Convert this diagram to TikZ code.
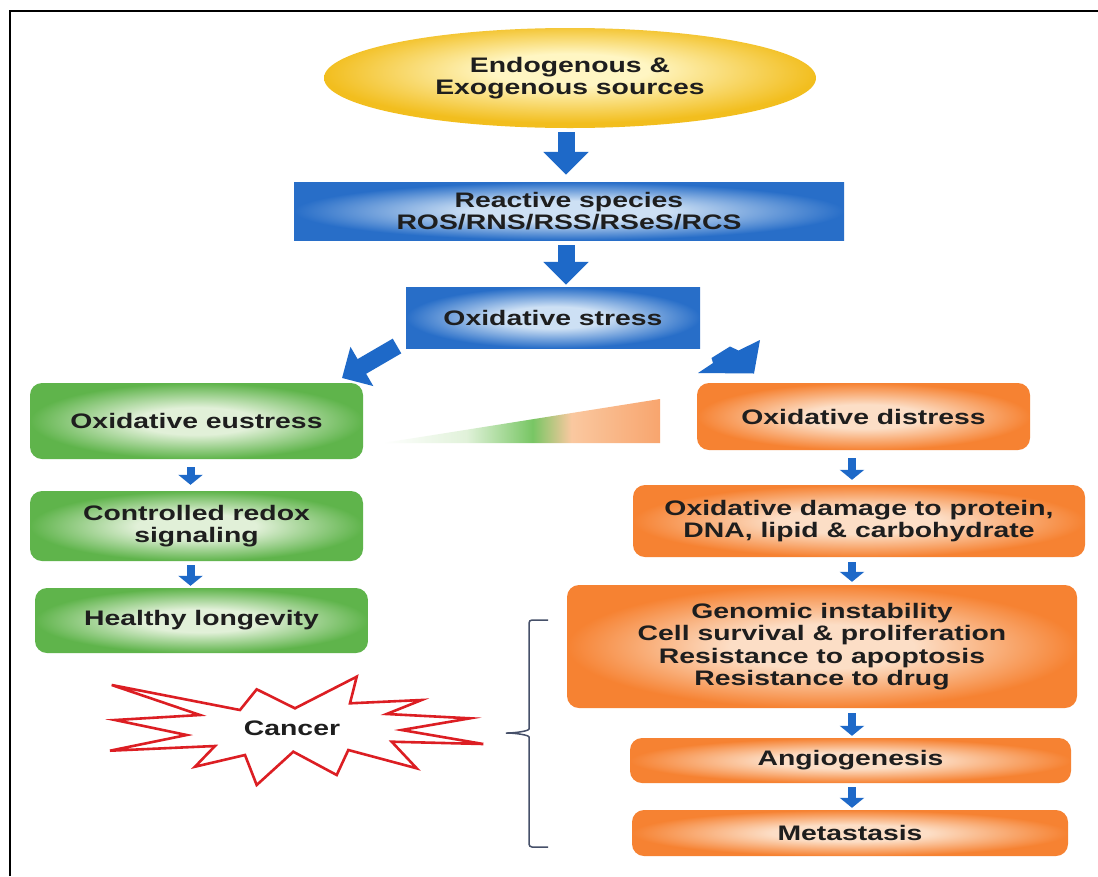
\documentclass[tikz,border=0pt]{standalone}
\usepackage{fontspec}
\setmainfont{Liberation Sans}[FakeStretch=1.35]
\usetikzlibrary{shapes.geometric,arrows.meta}
\definecolor{txt}{RGB}{30,30,30}
\definecolor{blueout}{RGB}{40,110,200}
\definecolor{bluein}{RGB}{205,224,244}
\definecolor{arrblue}{RGB}{30,105,200}
\definecolor{greenout}{RGB}{95,180,75}
\definecolor{greenin}{RGB}{225,240,216}
\definecolor{orout}{RGB}{246,130,50}
\definecolor{orin}{RGB}{252,222,198}
\definecolor{yelout}{RGB}{242,190,30}
\definecolor{yelin}{RGB}{255,246,195}
\definecolor{burst}{RGB}{220,30,35}
\definecolor{bracec}{RGB}{70,80,105}
\definecolor{trigA}{RGB}{225,242,218}
\definecolor{trigB}{RGB}{120,198,100}
\definecolor{tripA}{RGB}{250,200,160}
\definecolor{tripB}{RGB}{248,165,110}
\pgfdeclarehorizontalshading{trishade}{100bp}{color(0bp)=(white); color(25bp)=(white); color(40bp)=(trigA); color(52bp)=(trigB); color(59bp)=(tripA); color(75bp)=(tripB); color(100bp)=(tripB)}
\pgfdeclareradialshading{blueglow}{\pgfpoint{0bp}{0bp}}{color(0bp)=(bluein); color(9bp)=(bluein); color(25bp)=(blueout); color(50bp)=(blueout)}
\pgfdeclareradialshading{greenglow}{\pgfpoint{0bp}{0bp}}{color(0bp)=(greenin); color(9bp)=(greenin); color(25bp)=(greenout); color(50bp)=(greenout)}
\pgfdeclareradialshading{orglow}{\pgfpoint{0bp}{0bp}}{color(0bp)=(orin); color(9bp)=(orin); color(25bp)=(orout); color(50bp)=(orout)}
\pgfdeclareradialshading{yelglow}{\pgfpoint{0bp}{5bp}}{color(0bp)=(yelin); color(8bp)=(yelin); color(25bp)=(yelout); color(50bp)=(yelout)}
\tikzset{
  lbl/.style={font=\fontsize{21}{22.5}\selectfont\bfseries, text=txt, align=center, inner sep=0pt},
  bluebox/.style={lbl, rectangle, shading=blueglow},
  greenbox/.style={lbl, rectangle, rounded corners=12pt, shading=greenglow},
  orbox/.style={lbl, rectangle, rounded corners=12pt, shading=orglow},
  bigarr/.style={draw=arrblue, line width=17pt, -{Triangle[width=44pt,length=23pt]}},
  smallarr/.style={draw=arrblue, line width=8pt, -{Triangle[width=24pt,length=10pt]}},
}
\begin{document}
\begin{tikzpicture}[x=1pt,y=-1pt]
\useasboundingbox (0,0) rectangle (1098,876);
\fill[white] (0,0) rectangle (1098,876);
\draw[line width=2.5pt] (10,876) -- (10,11) -- (1098,11);

\node[lbl, ellipse, shading=yelglow, minimum width=492pt, minimum height=100pt] (src) at (570,78) {Endogenous \&\\Exogenous sources};
\node[bluebox, minimum width=550pt, minimum height=58pt] (rs) at (569,211) {Reactive species\\ROS/RNS/RSS/RSeS/RCS};
\node[bluebox, minimum width=294pt, minimum height=61pt] (os) at (553,317.5) {Oxidative stress};

\node[greenbox, minimum width=333pt, minimum height=76pt] (eu) at (196.5,421) {Oxidative eustress};
\node[greenbox, minimum width=333pt, minimum height=70pt] (rx) at (196.5,526) {Controlled redox\\signaling};
\node[greenbox, minimum width=333pt, minimum height=65pt] (hl) at (201.5,620.5) {Healthy longevity};

\node[orbox, minimum width=333pt, minimum height=67pt] (di) at (863.5,416.5) {Oxidative distress};
\node[orbox, minimum width=452pt, minimum height=72pt] (dm) at (859,521) {Oxidative damage to protein,\\DNA, lipid \& carbohydrate};
\node[orbox, minimum width=510pt, minimum height=123pt] (gi) at (822,646.5) {Genomic instability\\Cell survival \& proliferation\\Resistance to apoptosis\\Resistance to drug};
\node[orbox, minimum width=441pt, minimum height=45pt] (an) at (850.5,760.5) {Angiogenesis};
\node[orbox, minimum width=436pt, minimum height=46pt] (me) at (850,833) {Metastasis};

% big arrows
\draw[bigarr, shorten <=4pt, shorten >=7pt] ([xshift=-4pt]src.south) -- ([xshift=-3pt]rs.north);
\draw[bigarr, shorten <=5pt, shorten >=2pt] ([xshift=-3pt]rs.south) -- ([xshift=13pt]os.north);
\coordinate (dla) at (397,346);
\coordinate (dlb) at (342,378);
\draw[bigarr] (dla) -- (dlb);
\fill[arrblue] (698,373) -- (713,363) -- (711.5,358) -- (730,346.5) -- (738.5,350.5) -- (760,340) -- (754,373.5) -- cycle;

% small arrows
\draw[smallarr, shorten <=8pt, shorten >=6pt] ([xshift=-6pt]eu.south) -- ([xshift=-6pt]rx.north);
\draw[smallarr, shorten <=4pt, shorten >=2pt] ([xshift=-6pt]rx.south) -- ([xshift=-11pt]hl.north);
\draw[smallarr, shorten <=8pt, shorten >=5pt] ([xshift=-11.5pt]di.south) -- ([xshift=-7pt]dm.north);
\draw[smallarr, shorten <=5pt, shorten >=3pt] ([xshift=-7pt]dm.south) -- ([xshift=30pt]gi.north);
\draw[smallarr, shorten <=5pt, shorten >=2pt] ([xshift=30pt]gi.south) -- ([xshift=1.5pt]an.north);
\draw[smallarr, shorten <=4pt, shorten >=2pt] ([xshift=1.5pt]an.south) -- ([xshift=2pt]me.north);

% gradient wedge
\shade[shading=trishade] (383,443) -- (660,399) -- (660,443) -- cycle;

% cancer starburst
\draw[burst, line width=2.6pt, fill=white, line join=miter]
  (111.7,685) -- (240,710) -- (256.7,689.3) -- (295,708.3) -- (356.7,676.7) -- (350,703.3)
  -- (421.7,700) -- (386.7,714) -- (470,718.3) -- (401.7,730) -- (483.3,744) -- (391.7,741.7)
  -- (416.7,768.3) -- (348.3,750) -- (336.7,775) -- (293.3,751.7) -- (256.7,785) -- (245,755)
  -- (195,766.7) -- (215,746) -- (110,750.7) -- (186.7,735) -- (115,720) -- (200,715) -- cycle;
\node[lbl] (cancer) at (292,728) {Cancer};

% brace
\draw[bracec, line width=1.5pt, rounded corners=3pt] (548,620) -- (529,620) -- (529,726)
  .. controls (529,731) and (515,733) .. (504,733)
  .. controls (515,733) and (529,735) .. (529,740) -- (529,847) -- (548,847);
\end{tikzpicture}
\end{document}
